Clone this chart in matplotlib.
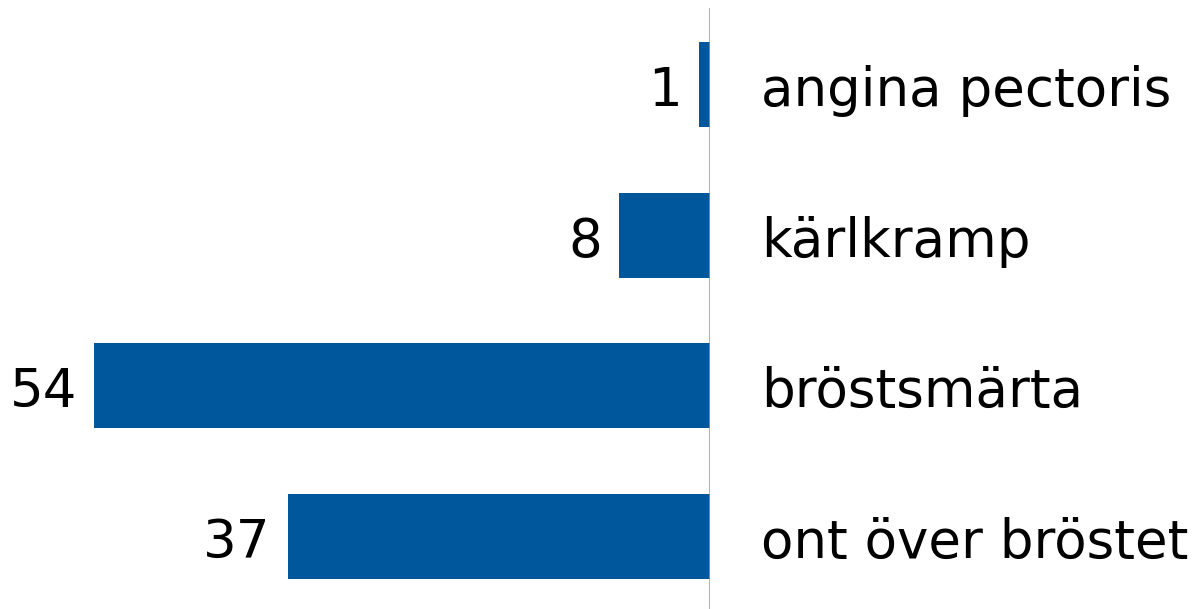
import matplotlib

matplotlib.use("Agg")

import matplotlib.pyplot as plt

categories = ["angina pectoris", "kärlkramp", "bröstsmärta", "ont över bröstet"]
values = [1, 8, 54, 37]

BAR_COLOR = "#00579B"
FONT_SIZE = 38.2

W, H = 1201, 609
fig = plt.figure(figsize=(W / 100, H / 100), dpi=100)
# axes span from the left edge to the zero line, top at y=8 px
ax = fig.add_axes([0, 0, 710 / W, (H - 8) / H])

ypos = list(range(len(categories)))
ax.barh(ypos, [-v for v in values], height=0.563, color=BAR_COLOR, zorder=2)

ax.set_xlim(-62.24, 0)
ax.set_ylim(3.48, -0.507)
ax.axis("off")
ax.axvline(0, color="#9a9a9a", lw=1.8, zorder=3)

for y, v, cat in zip(ypos, values, categories):
    ax.annotate(
        str(v),
        xy=(-v, y),
        xytext=(-17, -1),
        textcoords="offset pixels",
        ha="right",
        va="center_baseline",
        fontsize=FONT_SIZE,
        color="black",
    )
    ax.annotate(
        cat,
        xy=(0, y),
        xytext=(51, -1),
        textcoords="offset pixels",
        ha="left",
        va="center_baseline",
        fontsize=FONT_SIZE,
        color="black",
        annotation_clip=False,
    )

fig.savefig("out.png", dpi=100)
